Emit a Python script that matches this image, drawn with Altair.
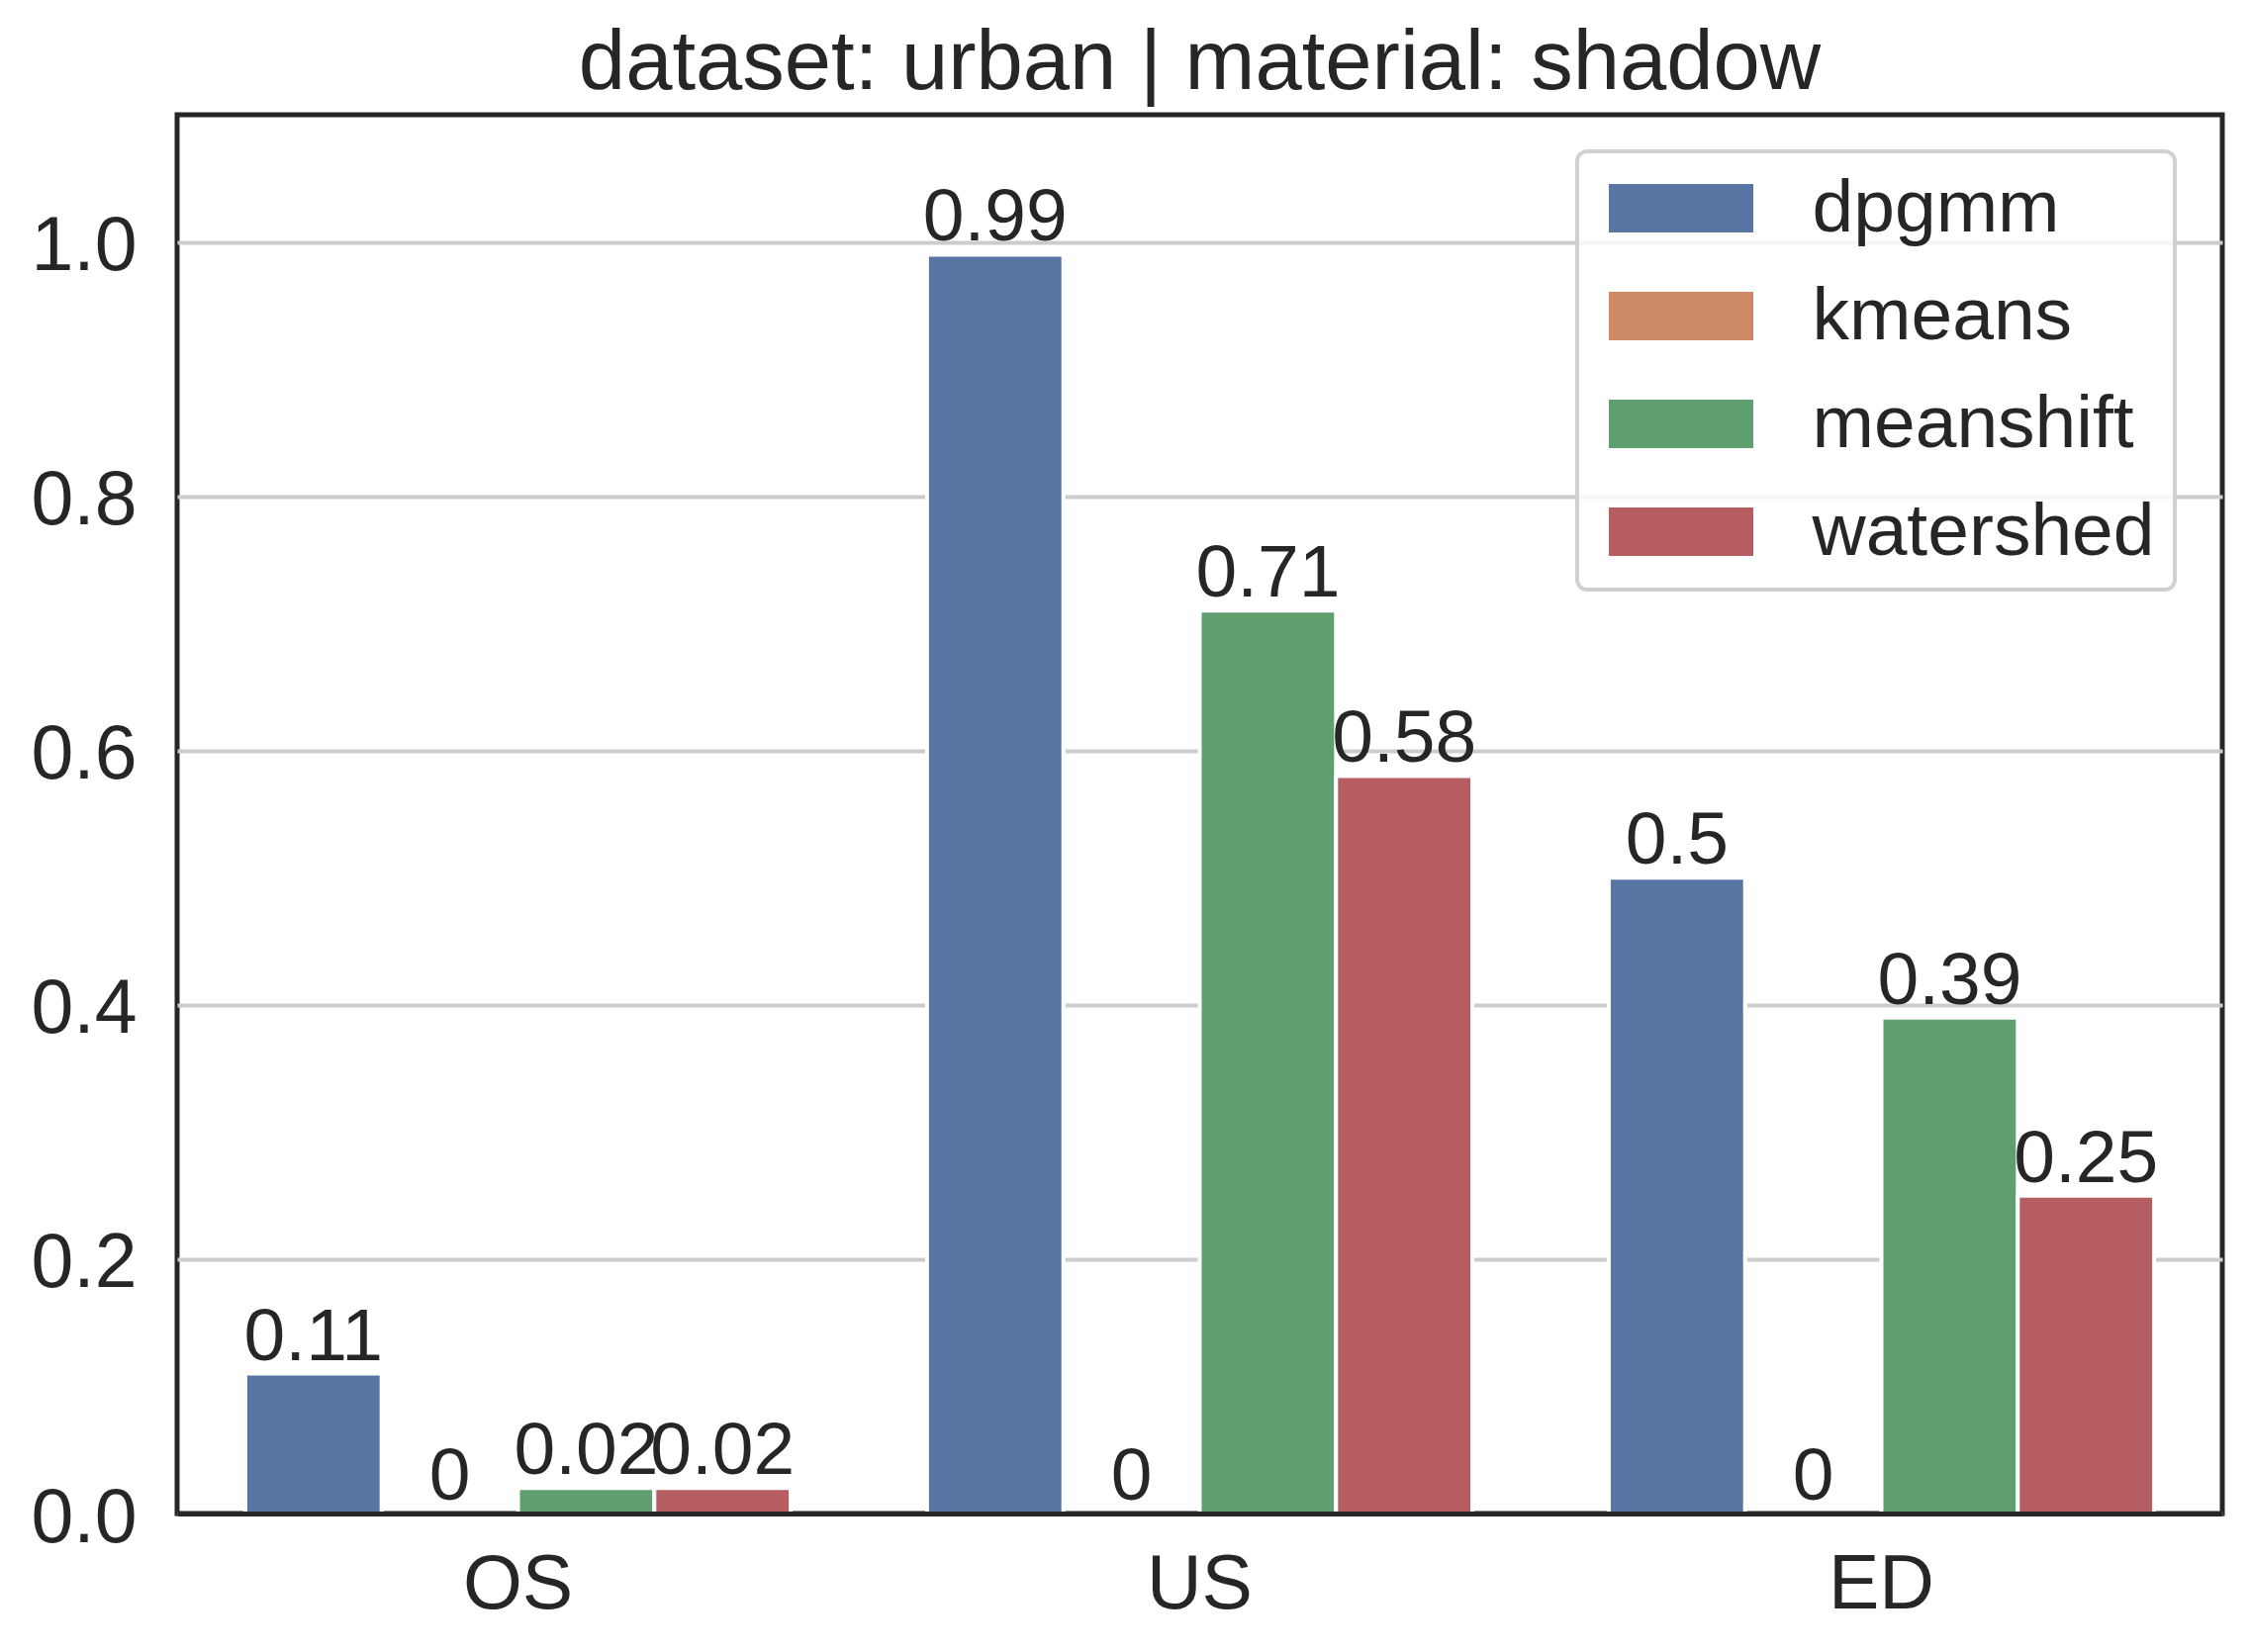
import altair as alt
import pandas as pd

groups = ["OS", "US", "ED"]
methods = ["dpgmm", "kmeans", "meanshift", "watershed"]
dpgmm = [0.11, 0.99, 0.50]
kmeans = [0.0, 0.0, 0.0]
meanshift = [0.02, 0.71, 0.39]
watershed = [0.02, 0.58, 0.25]
colors = ["#5975a4", "#cc8963", "#5f9e6e", "#b55d60"]
yticks = [0.0, 0.2, 0.4, 0.6, 0.8, 1.0]
title_text = "dataset: urban | material: shadow"

rows = []
for m, vals in zip(methods, [dpgmm, kmeans, meanshift, watershed]):
    for g, v in zip(groups, vals):
        rows.append({"group": g, "method": m, "value": v, "label": f"{v:g}"})
df = pd.DataFrame(rows)

FONT = "Liberation Sans"
INK = "#262626"
RECT = "M-2,-0.671L2,-0.671L2,0.671L-2,0.671Z"

x = alt.X(
    "group:N",
    sort=groups,
    scale=alt.Scale(paddingInner=0.2, paddingOuter=0.1),
    axis=alt.Axis(
        title=None, labelAngle=0, labelFontSize=77, labelPadding=34,
        ticks=False, tickSize=0, domain=True, domainColor=INK, domainWidth=5,
        zindex=1, grid=False, labelColor=INK, labelFont=FONT,
    ),
)
xo = alt.XOffset("method:N", sort=methods, scale=alt.Scale(paddingInner=0, paddingOuter=0))
y = alt.Y(
    "value:Q",
    scale=alt.Scale(domain=[0, 1.1], nice=False),
    axis=alt.Axis(
        title=None, values=yticks, format=".1f", labelFontSize=77,
        labelPadding=41, labelOffset=5, ticks=False, tickSize=0, domain=False,
        grid=True, gridColor="#cccccc", gridWidth=4, labelColor=INK,
        labelFont=FONT,
    ),
)
color = alt.Color(
    "method:N",
    sort=methods,
    scale=alt.Scale(domain=methods, range=colors),
    legend=alt.Legend(
        title=None, orient="none", legendX=1415, legendY=37,
        symbolType=RECT, symbolSize=5329, symbolStrokeWidth=0,
        symbolOffset=47.5, labelOffset=95, rowPadding=33, padding=20,
        labelFontSize=75, labelFont=FONT, labelColor=INK, labelLimit=1000,
        fillColor="rgba(255,255,255,0.8)", strokeColor="#d0d0d0",
        cornerRadius=10, symbolOpacity=1,
    ),
)

bars = alt.Chart(df).mark_bar(stroke="white", strokeWidth=4).encode(
    x=x, xOffset=xo, y=y, color=color
)
labels = alt.Chart(df).mark_text(
    baseline="alphabetic", dy=-14, fontSize=75, font=FONT, color=INK
).encode(
    x=alt.X("group:N", sort=groups),
    xOffset=alt.XOffset("method:N", sort=methods),
    y="value:Q",
    text="label:N",
)

chart = (
    alt.layer(bars, labels)
    .properties(
        width=2067,
        height=1414,
        background="white",
        title=alt.TitleParams(
            text=title_text, fontSize=85, font=FONT, fontWeight="normal",
            color=INK, anchor="middle", baseline="alphabetic", offset=23, dy=82,
        ),
        autosize=alt.AutoSizeParams(type="none"),
        padding={"left": 171, "top": 108, "right": 15, "bottom": 128},
    )
    .configure_view(stroke=INK, strokeWidth=5)
    .configure_legend(strokeWidth=4)
)

chart.save("out.html", embed_options={"renderer": "svg", "actions": False})
